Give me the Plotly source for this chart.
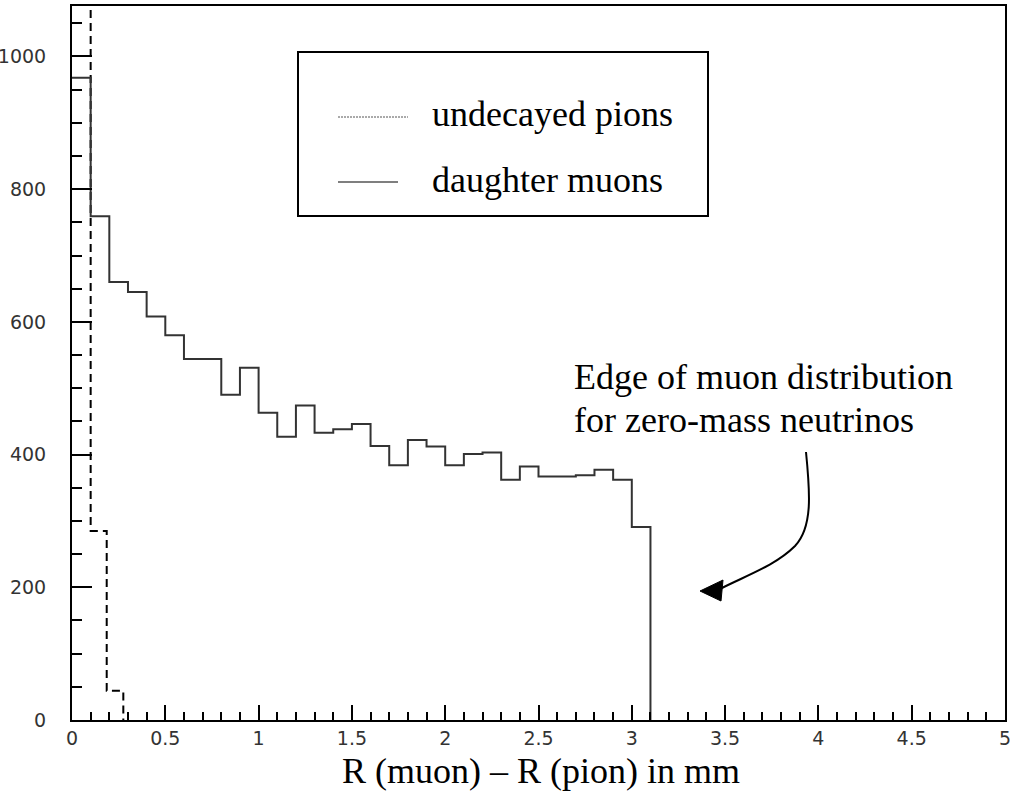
import plotly.graph_objects as go

# ---------------- data ----------------
bin_width = 0.1
muon_counts = [968, 759, 660, 645, 608, 580, 544, 544, 490, 531,
               463, 427, 474, 433, 438, 446, 413, 384, 422, 412,
               384, 401, 403, 362, 382, 367, 367, 369, 377, 362, 291]
pion_edges = [0.0, 0.1, 0.186, 0.275]
pion_counts = [4000, 285, 44]   # first bin is off scale

x_ticks = [0, 0.5, 1, 1.5, 2, 2.5, 3, 3.5, 4, 4.5, 5]
x_labels = ["0", "0.5", "1", "1.5", "2", "2.5", "3", "3.5", "4", "4.5", "5"]
y_ticks = [0, 200, 400, 600, 800, 1000]
y_labels = ["0", "200", "400", "600", "800", "1000"]

legend_labels = ["undecayed pions", "daughter muons"]
note_lines = ["Edge of muon distribution", "for zero-mass neutrinos"]
x_title = "R (muon) \u2013 R (pion) in mm"

# ---------------- layout geometry ----------------
W, H = 1010, 792
L, R, T, B = 72, 5, 6, 72
XR = [0, 5]
YR = [0, 1076]
PW, PH = W - L - R, H - T - B


def px2x(px):
    return XR[0] + (px - L) / PW * (XR[1] - XR[0])


def py2y(py):
    return YR[0] + (H - B - py) / PH * (YR[1] - YR[0])


def px2p(px):
    return (px - L) / PW


def py2p(py):
    return (H - B - py) / PH


# histogram step coordinates from the counts
mu_x = [round(i * bin_width, 3) for i in range(len(muon_counts))] + [round(len(muon_counts) * bin_width, 3)]
mu_y = muon_counts + [0]
pi_x = pion_edges
pi_y = pion_counts + [0]

fig = go.Figure()
fig.add_trace(go.Scatter(x=pi_x, y=pi_y, mode="lines", line_shape="hv",
                         line=dict(color="black", width=2, dash="8px,5px"),
                         showlegend=False, hoverinfo="skip"))
fig.add_trace(go.Scatter(x=mu_x, y=mu_y, mode="lines", line_shape="hv",
                         line=dict(color="#333333", width=2),
                         showlegend=False, hoverinfo="skip"))

tickfont = dict(family="DejaVu Sans", size=19, color="#333333")

fig.update_xaxes(range=XR, showgrid=False, zeroline=False,
                 showline=True, linewidth=2, linecolor="black", mirror=True,
                 ticks="inside", ticklen=15, tickwidth=1.5, tickcolor="black",
                 tickvals=x_ticks, ticktext=x_labels, tickfont=tickfont,
                 ticklabeloverflow="allow",
                 minor=dict(dtick=0.1, ticks="inside", ticklen=8, tickwidth=1.5,
                            tickcolor="black", showgrid=False))
fig.update_yaxes(range=YR, showgrid=False, zeroline=False,
                 showline=True, linewidth=2, linecolor="black", mirror=True,
                 ticks="inside", ticklen=20, tickwidth=1.5, tickcolor="black",
                 tickvals=y_ticks, ticktext=y_labels, tickfont=tickfont,
                 ticklabelstandoff=20, ticklabeloverflow="allow",
                 minor=dict(dtick=50, ticks="inside", ticklen=10, tickwidth=1.5,
                            tickcolor="black", showgrid=False))

serif = dict(family="Liberation Serif, Times New Roman, serif", size=36, color="black")

shapes = []
# legend box
shapes.append(dict(type="rect", xref="paper", yref="paper",
                   x0=px2p(298), x1=px2p(708), y0=py2p(216), y1=py2p(52),
                   line=dict(color="black", width=2), fillcolor="white"))
# legend samples
shapes.append(dict(type="line", xref="paper", yref="paper",
                   x0=px2p(338), x1=px2p(408), y0=py2p(117), y1=py2p(117),
                   line=dict(color="#555555", width=1, dash="2px,1px")))
shapes.append(dict(type="line", xref="paper", yref="paper",
                   x0=px2p(338), x1=px2p(398), y0=py2p(182), y1=py2p(182),
                   line=dict(color="#555555", width=1.5)))

# curved arrow (decoration)
pts = [(806, 452), (810, 492), (813, 527), (795, 546), (775, 566), (745, 576), (720, 589)]
d = "M {} {} C {} {}, {} {}, {} {} C {} {}, {} {}, {} {}".format(
    *[v for p in pts for v in (px2x(p[0]), py2y(p[1]))])
shapes.append(dict(type="path", xref="x", yref="y", path=d,
                   line=dict(color="black", width=2)))
tri = [(700, 591), (723, 580), (721, 601)]
dt = "M {} {} L {} {} L {} {} Z".format(*[v for p in tri for v in (px2x(p[0]), py2y(p[1]))])
shapes.append(dict(type="path", xref="x", yref="y", path=dt,
                   line=dict(color="black", width=1), fillcolor="black"))

annotations = [
    dict(text=legend_labels[0], xref="paper", yref="paper", x=px2p(430), y=py2p(114),
         xanchor="left", yanchor="middle", showarrow=False, font=serif),
    dict(text=legend_labels[1], xref="paper", yref="paper", x=px2p(430), y=py2p(180),
         xanchor="left", yanchor="middle", showarrow=False, font=serif),
    dict(text=note_lines[0], xref="paper", yref="paper", x=px2p(572), y=py2p(377),
         xanchor="left", yanchor="middle", showarrow=False, font=serif),
    dict(text=note_lines[1], xref="paper", yref="paper", x=px2p(572), y=py2p(420),
         xanchor="left", yanchor="middle", showarrow=False, font=serif),
    dict(text=x_title, xref="paper", yref="paper", x=px2p(541), y=py2p(771),
         xanchor="center", yanchor="middle", showarrow=False, font=serif),
]

fig.update_layout(width=W, height=H, margin=dict(l=L, r=R, t=T, b=B, autoexpand=False),
                  paper_bgcolor="white", plot_bgcolor="white",
                  shapes=shapes, annotations=annotations, showlegend=False)

fig.write_html("out.html", config={"displayModeBar": False},
               post_script="document.body.style.margin='0px';document.body.style.padding='0px';")
